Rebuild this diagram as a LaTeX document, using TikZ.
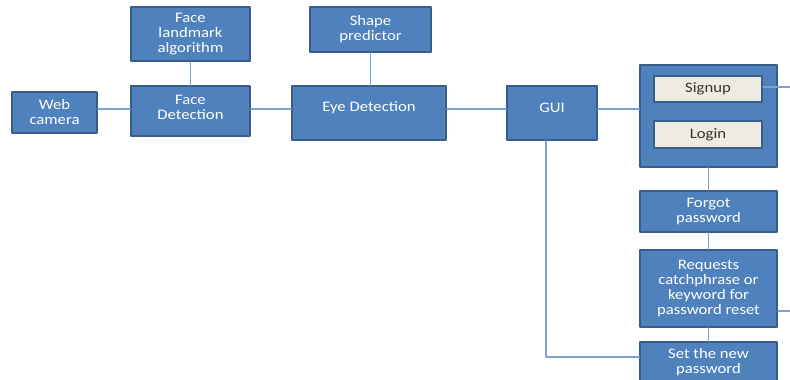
\documentclass[tikz,border=0pt]{standalone}
\usepackage{fontspec}
\setmainfont{Carlito}[FakeStretch=1.15]
\usepackage{tikz}
\usetikzlibrary{positioning,calc}
\definecolor{boxblue}{HTML}{4F81BD}
\definecolor{boxedge}{HTML}{385D8A}
\definecolor{wireblue}{HTML}{7EA1D3}
\definecolor{tabbeige}{HTML}{EEECE1}
\begin{document}
\begin{tikzpicture}[x=1pt,y=-1pt,line cap=round,line join=round,
  block/.style={draw=boxedge,line width=1.6pt,fill=boxblue,text=white,align=center,
    inner sep=1pt,font=\fontsize{14.5}{15}\selectfont},
  tab/.style={draw=boxedge,line width=1.8pt,fill=tabbeige,text=black!80,
    inner sep=1pt,font=\fontsize{14.5}{15}\selectfont},
  wire/.style={draw=wireblue,line width=1.2pt},
  lift/.style={execute at end node={\rule[-#1]{0pt}{#1}}}]
\useasboundingbox (0,0) rectangle (790,380);
\clip (0,0) rectangle (790,380);
% main row
\node[block,minimum width=85,minimum height=41] (webcam) at (54.5,112.5) {Web\\camera};
\node[block,minimum width=119,minimum height=54] (landmark) at (190.5,34) {Face\\landmark\\algorithm};
\node[block,minimum width=119,minimum height=50,lift=8pt] (facedet) at (190.5,111) {Face\\Detection};
\node[block,minimum width=121,minimum height=45] (shape) at (370.5,29.5) {Shape\\predictor};
\node[block,minimum width=154,minimum height=54,lift=13pt] (eyedet) at (369,113) {Eye Detection};
\node[block,minimum width=90,minimum height=54,lift=10pt] (gui) at (552,113) {GUI};
% signup / login panel
\node[block,minimum width=137,minimum height=102] (panel) at (708.5,116) {};
\node[tab,minimum width=108,minimum height=26] (signup) at (708,89) {Signup};
\node[tab,minimum width=108,minimum height=27] (login) at (708,134.5) {Login};
% password reset column
\node[block,minimum width=137,minimum height=41] (forgot) at (708.5,211.5) {Forgot\\password};
\node[block,minimum width=137,minimum height=77] (requests) at (708.5,288.5) {Requests\\catchphrase or\\keyword for\\password reset};
\node[block,minimum width=137,minimum height=48,lift=11pt] (newpass) at (708.5,366) {Set the new\\password};
% connectors
\coordinate (row) at (0,109);
\draw[wire] (webcam.east |- row) -- (facedet.west |- row);
\draw[wire] (facedet.east |- row) -- (eyedet.west |- row);
\draw[wire] (eyedet.east |- row) -- (gui.west |- row);
\draw[wire] (gui.east |- row) -- (panel.west |- row);
\draw[wire] (landmark.south) -- (landmark.south |- facedet.north);
\draw[wire] (shape.south) -- (shape.south |- eyedet.north);
\coordinate (out1) at (792,87);
\draw[wire] (signup.east |- out1) -- (out1);
\draw[wire] (panel.south) -- (forgot.north);
\draw[wire] (forgot.south) -- (requests.north);
\draw[wire] (requests.south) -- (newpass.north);
\coordinate (out2) at (792,311);
\draw[wire] (requests.east |- out2) -- (out2);
\coordinate (drop) at (546,357);
\draw[wire] (gui.south -| drop) -- (drop) -- (newpass.west |- drop);
\end{tikzpicture}
\end{document}
